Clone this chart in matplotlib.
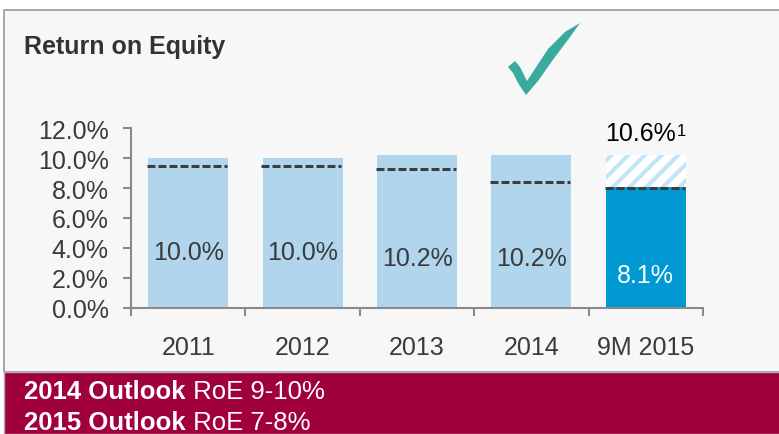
import matplotlib
matplotlib.use("Agg")
import matplotlib.pyplot as plt
from matplotlib.patches import Rectangle, Polygon
from matplotlib.ticker import PercentFormatter

plt.rcParams['font.family'] = ['Liberation Sans', 'DejaVu Sans']
plt.rcParams['hatch.linewidth'] = 3.0

# ---- data ----
categories = ["2011", "2012", "2013", "2014", "9M 2015"]
roe = [10.0, 10.0, 10.2, 10.2, 8.1]
roe_labels = ["10.0%", "10.0%", "10.2%", "10.2%", "8.1%"]
dashed_level = [9.45, 9.45, 9.25, 8.4, 8.0]
annualised_top = 10.2          # hatched part of 9M 2015 bar
annualised_label = "10.6%"
footnote = "1"
label_y = [3.7, 3.7, 3.3, 3.3, 2.2]
outlook_2014 = " RoE 9-10%"
outlook_2015 = " RoE 7-8%"

W, H = 779, 435
light = "#b2d5ee"
dark = "#0099d4"
txt = "#3a3a3a"

fig = plt.figure(figsize=(W / 100, H / 100), dpi=100)
fig.patch.set_facecolor("white")


def fx(x):
    return x / W


def fy(y):
    return 1 - y / H


# panel + red outlook band
fig.patches.append(Rectangle((fx(4), fy(373)), 1.0, fy(11) - fy(373), transform=fig.transFigure,
                             facecolor="#f7f7f7", edgecolor="#9a9a9a", lw=1.2, zorder=-2))
fig.patches.append(Rectangle((fx(4), 0), 1.0, fy(373), transform=fig.transFigure,
                             facecolor="#a0003c", edgecolor="#b0b0b0", lw=1.0, zorder=-2))

# check mark
tick_pts = [(508, 68), (515, 62), (520, 68), (527, 82), (548, 50), (565, 33), (580, 24),
            (570, 38), (552, 62), (538, 82), (526, 96), (518, 84), (513, 74)]
fig.patches.append(Polygon([(fx(x), fy(y)) for x, y in tick_pts], closed=True,
                           transform=fig.transFigure, facecolor="#3aa99e", edgecolor="none", zorder=-1))

fig.text(fx(24), fy(47), "Return on Equity", fontsize=18, fontweight="bold", color="#333333",
         va="center", ha="left")

ax = fig.add_axes([fx(131), fy(308.5), fx(703) - fx(131), fy(129.3) - fy(308.5)])
ax.set_zorder(2)
ax.patch.set_alpha(0)

x = list(range(len(categories)))
colors = [light] * (len(categories) - 1) + [dark]
ax.bar(x, roe, width=0.7, color=colors, zorder=2)
# hatched annualised part
ax.bar(x[-1], annualised_top - roe[-1], bottom=roe[-1], width=0.7, facecolor="white",
       edgecolor="#c4e5f7", hatch="//", lw=0, zorder=2)
for i, lvl in enumerate(dashed_level):
    ax.hlines(lvl, i - 0.36, i + 0.34, colors="#3d3d3d", lw=2.2, linestyles=(0, (2.6, 1.0)), zorder=3)

for i, (lab, ly) in enumerate(zip(roe_labels, label_y)):
    ax.text(i, ly, lab, ha="center", va="center", fontsize=18,
            color="white" if i == len(categories) - 1 else txt, zorder=4)
ann = ax.text(x[-1] - 0.05, 11.7, annualised_label, ha="center", va="center", fontsize=18, color="black")
ax.annotate(footnote, xy=(1, 1), xycoords=ann, xytext=(0.8, -1.5), textcoords="offset points",
            ha="left", va="top", fontsize=12, color="black")

ax.set_xlim(-0.5, len(categories) - 0.5)
ax.set_ylim(0, 12)
ax.set_yticks([0, 2, 4, 6, 8, 10, 12])
ax.yaxis.set_major_formatter(PercentFormatter(decimals=1))
ax.set_xticks([i - 0.5 for i in range(len(categories) + 1)])
ax.set_xticklabels([])
ax.set_xticks(x, minor=True)
ax.set_xticklabels(categories, minor=True)

for s in ["top", "right"]:
    ax.spines[s].set_visible(False)
for s in ["left", "bottom"]:
    ax.spines[s].set_color("#8a8a8a")
    ax.spines[s].set_linewidth(1.5)
ax.tick_params(axis="y", length=6, width=1.5, color="#8a8a8a", labelsize=18, labelcolor=txt, pad=10)
ax.tick_params(axis="x", which="major", length=6, width=1.5, color="#8a8a8a")
ax.tick_params(axis="x", which="minor", length=0, labelsize=18, labelcolor=txt, pad=20)

# outlook text in red band
fig.canvas.draw()
r = fig.canvas.get_renderer()
for yy, head, rest in [(392, "2014 Outlook", outlook_2014), (423, "2015 Outlook", outlook_2015)]:
    t = fig.text(fx(24), fy(yy), head, fontsize=18.5, fontweight="bold", color="white",
                 va="center", ha="left")
    bb = t.get_window_extent(r)
    fig.text(bb.x1 / W, fy(yy), rest, fontsize=18.5, color="white", va="center", ha="left")

fig.savefig("out.png", dpi=100, facecolor=fig.get_facecolor())
